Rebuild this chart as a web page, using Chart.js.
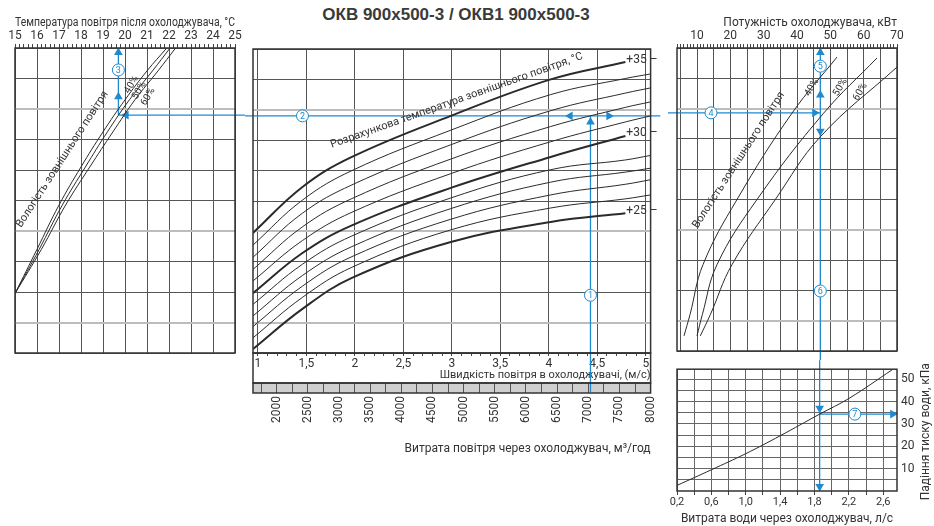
<!DOCTYPE html>
<html>
<head>
<meta charset="utf-8">
<script src="https://cdn.jsdelivr.net/npm/chart.js@4"></script>
<style>
  body { margin: 0; background: #fff; width: 934px; height: 526px; position: relative; overflow: hidden; }
  canvas { position: absolute; }
  #title { position: absolute; top: 5px; left: 0; width: 912px; text-align: center;
           font: bold 17px "Liberation Sans", Arial, sans-serif; color: #3a3a3a; }
</style>
</head>
<body>
<div id="title">ОКВ 900х500-3 / ОКВ1 900х500-3</div>
<canvas id="left" width="245" height="360" style="left:0;top:0"></canvas>
<canvas id="mid" width="423" height="470" style="left:245px;top:0"></canvas>
<canvas id="rtop" width="266" height="360" style="left:668px;top:0"></canvas>
<canvas id="rbot" width="266" height="168" style="left:668px;top:358px"></canvas>
<script>
// ---- дані ----
// ліва панель: температура після охолоджувача (°C) vs спільна вертикальна шкала 0..10
const LEFT_Y = [1.95, 3.4, 4.85, 6.1, 7.25, 8.3, 9.25, 10];
const LEFT_40 = [15, 16, 17, 18, 19, 20, 21, 21.9];
const LEFT_50 = [15, 16.1, 17.15, 18.2, 19.2, 20.2, 21.25, 22.05];
const LEFT_60 = [15, 16.2, 17.3, 18.4, 19.45, 20.45, 21.5, 22.3];

// середня панель: швидкість повітря (м/с)
const VEL_BOLD = [0.95, 1.46, 1.97, 2.99, 4.02, 4.79];
const VEL_THIN = [0.95, 1.46, 1.97, 2.99, 4.02, 4.79, 5.05];
const T35 = [3.95, 5.46, 6.45, 7.8, 9.0, 9.57];
const T34 = [3.55, 5.03, 6.0, 7.33, 8.5, 9.03, 9.18];
const T33 = [3.15, 4.6, 5.53, 6.85, 7.97, 8.55, 8.72];
const T32 = [2.75, 4.15, 5.08, 6.38, 7.45, 8.08, 8.26];
const T31 = [2.37, 3.7, 4.63, 5.9, 6.95, 7.6, 7.8];
const T30 = [1.97, 3.29, 4.2, 5.43, 6.45, 7.14];
const T29 = [1.6, 2.92, 3.85, 5.1, 6.03, 6.35, 6.5];
const T28 = [1.22, 2.55, 3.5, 4.75, 5.62, 5.95, 6.08];
const T27 = [0.87, 2.2, 3.17, 4.4, 5.2, 5.55, 5.7];
const T26 = [0.5, 1.83, 2.82, 4.05, 4.77, 5.07, 5.2];
const T25 = [0.13, 1.45, 2.47, 3.65, 4.31, 4.6];

// права верхня панель: потужність (кВт)
const POW_Y = [0.5, 1.2, 2.85, 5.0, 7.85, 9.7];
const POW_40 = [6.1, 7.9, 11.8, 22, 38.5, 52];
const POW_50_Y = [0.5, 1.2, 2.85, 5.0, 7.85, 9.67];
const POW_50 = [10, 11.6, 16, 28, 48, 64];
const POW_60_Y = [0.5, 1.2, 2.85, 5.0, 7.07, 9.37];
const POW_60 = [11, 14, 20.5, 33.5, 47, 70];

// права нижня панель: витрата води (л/с) і падіння тиску (кПа)
const WATER = [0.2, 0.6, 1.0, 1.4, 1.86, 2.2, 2.71];
const DROP = [2.5, 9.5, 16.7, 24.7, 34.4, 41.4, 54.4];

// приклад підбору (сині лінії)
const EX_Y = 7.8;        // рівень лінії 2/4
const EX_VEL = 4.43;     // швидкість, м/с
const EX_TEMP = 19.7;    // температура після охолоджувача
const EX_POW = 47;       // потужність, кВт
const EX_WATER = 1.86;   // витрата води
const EX_DROP = 34.4;    // падіння тиску

const BLUE = '#1e8ad0';
const FONT = 'Roboto, "Noto Sans", sans-serif';

function pts(xs, ys) { return xs.map((x, i) => ({ x: x, y: ys[i] })); }
function range(a, b, step) {
  const t = [];
  for (let v = a; v <= b + 1e-9; v += step) t.push({ value: Math.round(v * 1000) / 1000 });
  return t;
}
function isMul(v, m) { const r = v / m; return Math.abs(r - Math.round(r)) < 1e-6; }
function comma(v, d) { return v.toFixed(d).replace('.', ','); }

function curve(data, w) {
  return { data: data, showLine: true, borderColor: '#2b2b2b', borderWidth: w || 1,
           pointRadius: 0, tension: 0.4, fill: false };
}
function blueLine(data) {
  return { data: data, showLine: true, borderColor: BLUE, borderWidth: 1.3, pointRadius: 0, clip: false };
}
function arrows(data, rot) {
  return { data: data, showLine: false, pointStyle: 'triangle', pointRadius: 5, pointRotation: rot,
           pointBackgroundColor: BLUE, pointBorderColor: BLUE, pointBorderWidth: 0, clip: false };
}

// спільна вертикальна шкала (лише сітка)
function hiddenY() {
  return {
    min: 0, max: 10, position: 'left',
    ticks: { display: false, stepSize: 1 },
    border: { display: false },
    grid: {
      drawTicks: false,
      color: c => [1, 4, 8].includes(c.tick.value) ? '#bdbdbd' : '#555',
      lineWidth: c => [1, 4, 8].includes(c.tick.value) ? 2 : 1
    },
    afterFit(s) { s.width = 0; }
  };
}

const notesPlugin = {
  id: 'notes',
  afterDatasetsDraw(chart, args, opts) {
    const ctx = chart.ctx, xs = chart.scales.x, ys = chart.scales.y;
    (opts.items || []).forEach(it => {
      const px = xs.getPixelForValue(it.x), py = ys.getPixelForValue(it.y);
      ctx.save();
      ctx.translate(px, py);
      if (it.num) {
        ctx.beginPath();
        ctx.arc(0, 0, 6, 0, Math.PI * 2);
        ctx.fillStyle = '#fff';
        ctx.fill();
        ctx.strokeStyle = BLUE;
        ctx.lineWidth = 1;
        ctx.stroke();
        ctx.fillStyle = BLUE;
        ctx.font = '9px ' + FONT;
        ctx.textAlign = 'center';
        ctx.textBaseline = 'middle';
        ctx.fillText(it.num, 0, 0.5);
      } else {
        ctx.rotate((it.rot || 0) * Math.PI / 180);
        ctx.font = it.font || ('11px ' + FONT);
        ctx.fillStyle = it.color || '#333';
        ctx.textAlign = it.align || 'center';
        ctx.textBaseline = 'middle';
        ctx.fillText(it.t, 0, 0);
      }
      ctx.restore();
    });
  },
  afterDraw(chart) {
    const a = chart.chartArea, ctx = chart.ctx;
    ctx.save();
    ctx.strokeStyle = '#333';
    ctx.lineWidth = 1.5;
    ctx.strokeRect(a.left, a.top, a.right - a.left, a.bottom - a.top);
    ctx.restore();
  }
};

function topAxis(min, max, step, labelEvery, gridEvery, title, align) {
  return {
    type: 'linear', position: 'top', min: min, max: max,
    afterBuildTicks(s) { s.ticks = range(Math.ceil(min / step) * step, max, step); },
    ticks: { autoSkip: false, maxRotation: 0, padding: 1, color: '#333', font: { size: 12, family: FONT },
             callback: v => isMul(v, labelEvery) ? v : '' },
    grid: { color: c => isMul(c.tick.value, gridEvery) ? '#555' : 'rgba(0,0,0,0)',
            tickColor: '#444', tickLength: 4 },
    border: { display: false },
    title: { display: true, text: title, align: align, color: '#333', font: { size: 12, family: FONT },
             padding: { top: 16, bottom: 0 } },
    afterFit(s) { s.height = 48; }
  };
}

Chart.defaults.animation = false;
Chart.defaults.font.family = FONT;

// ---- ліва панель ----
new Chart(document.getElementById('left'), {
  type: 'scatter',
  data: { datasets: [
    curve(pts(LEFT_40, LEFT_Y)), curve(pts(LEFT_50, LEFT_Y)), curve(pts(LEFT_60, LEFT_Y)),
    blueLine([{ x: EX_TEMP, y: EX_Y }, { x: 25.45, y: EX_Y }]),
    blueLine([{ x: EX_TEMP, y: EX_Y }, { x: EX_TEMP, y: 10 }]),
    arrows([{ x: 20.05, y: EX_Y }, { x: EX_TEMP, y: 8.4 }, { x: EX_TEMP, y: 9.85 }], [-90, 0, 0])
  ] },
  options: {
    responsive: false, devicePixelRatio: 1,
    layout: { padding: { left: 15, right: 10, top: 0, bottom: 7 } },
    scales: {
      x: topAxis(15, 25, 0.2, 1, 1, 'Температура повітря після охолоджувача, °С', 'start'),
      y: hiddenY()
    },
    plugins: { legend: { display: false }, tooltip: { enabled: false },
      notes: { items: [
        { t: 'Вологість зовнішнього повітря', x: 17.15, y: 6.35, rot: -57 },
        { t: '40%', x: 20.3, y: 8.8, rot: -60, font: '10px ' + FONT },
        { t: '50%', x: 20.65, y: 8.6, rot: -60, font: '10px ' + FONT },
        { t: '60%', x: 21.05, y: 8.4, rot: -60, font: '10px ' + FONT },
        { num: '3', x: EX_TEMP, y: 9.28 }
      ] } }
  },
  plugins: [notesPlugin]
});

// ---- середня панель ----
const midPlugin = {
  id: 'midbox',
  beforeDraw(chart) {
    const a = chart.chartArea, f = chart.scales.x2, ctx = chart.ctx;
    ctx.save();
    ctx.fillStyle = '#cfcfcf';
    ctx.fillRect(a.left, f.top, a.right - a.left, 10);
    ctx.restore();
  },
  afterDraw(chart) {
    const a = chart.chartArea, v = chart.scales.x, f = chart.scales.x2, ctx = chart.ctx;
    ctx.save();
    ctx.strokeStyle = '#333';
    ctx.lineWidth = 1.5;
    ctx.strokeRect(a.left, a.bottom, a.right - a.left, v.bottom - a.bottom);
    ctx.strokeRect(a.left, f.top, a.right - a.left, 10);
    ctx.restore();
  }
};
new Chart(document.getElementById('mid'), {
  type: 'scatter',
  data: { datasets: [
    curve(pts(VEL_BOLD, T35), 2), curve(pts(VEL_THIN, T34)), curve(pts(VEL_THIN, T33)),
    curve(pts(VEL_THIN, T32)), curve(pts(VEL_THIN, T31)), curve(pts(VEL_BOLD, T30), 2),
    curve(pts(VEL_THIN, T29)), curve(pts(VEL_THIN, T28)), curve(pts(VEL_THIN, T27)),
    curve(pts(VEL_THIN, T26)), curve(pts(VEL_BOLD, T25), 2),
    blueLine([{ x: 0.868, y: EX_Y }, { x: 5.15, y: EX_Y }]),
    blueLine([{ x: EX_VEL, y: -1.28 }, { x: EX_VEL, y: EX_Y }]),
    arrows([{ x: EX_VEL, y: 7.6 }, { x: 4.22, y: EX_Y }, { x: 4.62, y: EX_Y }], [0, -90, 90])
  ] },
  options: {
    responsive: false, devicePixelRatio: 1,
    layout: { padding: { left: 8, right: 10, top: 49, bottom: 0 } },
    scales: {
      x: {
        type: 'linear', position: 'bottom', min: 0.95, max: 5.05, weight: 0,
        afterBuildTicks(s) { s.ticks = range(1, 5, 0.1); },
        ticks: { autoSkip: false, maxRotation: 0, padding: 1, color: '#333', font: { size: 12 },
                 callback: v => isMul(v, 0.5) ? (isMul(v, 1) ? v : comma(v, 1)) : '' },
        grid: { color: c => isMul(c.tick.value, 0.5) ? '#555' : 'rgba(0,0,0,0)', tickColor: '#444', tickLength: 3 },
        border: { display: false },
        title: { display: true, text: 'Швидкість повітря в охолоджувачі, (м/с)', align: 'end',
                 color: '#333', font: { size: 11 }, padding: { top: 0, bottom: 1 } },
        afterFit(s) { s.height = 30; }
      },
      x2: {
        type: 'linear', position: 'bottom', min: 1620, max: 8000, weight: 1,
        afterBuildTicks(s) { s.ticks = range(1750, 8000, 250); },
        ticks: { autoSkip: false, minRotation: 90, maxRotation: 90, padding: 3, color: '#333', font: { size: 12 },
                 callback: v => isMul(v, 500) ? v : '' },
        grid: { drawOnChartArea: false, tickColor: '#555', tickLength: 10 },
        border: { display: false },
        title: { display: true, text: 'Витрата повітря через охолоджувач, м³/год', align: 'end',
                 color: '#333', font: { size: 12 }, padding: { top: 4, bottom: 14 } },
        afterFit(s) { s.height = 87; }
      },
      y: hiddenY()
    },
    plugins: { legend: { display: false }, tooltip: { enabled: false },
      notes: { items: [
        { t: 'Розрахункова температура зовнішнього повітря, °С', x: 3.05, y: 8.3, rot: -19.5 },
        { t: '+35 –', x: 4.8, y: 9.64, align: 'left', font: '12px ' + FONT },
        { t: '+30 –', x: 4.8, y: 7.24, align: 'left', font: '12px ' + FONT },
        { t: '+25 –', x: 4.8, y: 4.67, align: 'left', font: '12px ' + FONT },
        { num: '2', x: 1.46, y: EX_Y },
        { num: '1', x: EX_VEL, y: 1.9 }
      ] } }
  },
  plugins: [notesPlugin, midPlugin]
});

// ---- права верхня панель ----
new Chart(document.getElementById('rtop'), {
  type: 'scatter',
  data: { datasets: [
    curve(pts(POW_40, POW_Y)), curve(pts(POW_50, POW_50_Y)), curve(pts(POW_60, POW_60_Y)),
    blueLine([{ x: 1.3, y: 7.86 }, { x: EX_POW, y: 7.86 }]),
    blueLine([{ x: EX_POW, y: 10 }, { x: EX_POW, y: -0.3 }]),
    arrows([{ x: 45.3, y: 7.86 }, { x: EX_POW, y: 9.85 }, { x: EX_POW, y: 8.45 }, { x: EX_POW, y: 7.25 }],
           [90, 0, 0, 180])
  ] },
  options: {
    responsive: false, devicePixelRatio: 1,
    layout: { padding: { left: 9, right: 37, top: 0, bottom: 9 } },
    scales: {
      x: topAxis(4, 70, 1, 10, 5, 'Потужність охолоджувача, кВт', 'end'),
      y: hiddenY()
    },
    plugins: { legend: { display: false }, tooltip: { enabled: false },
      notes: { items: [
        { t: 'Вологість зовнішнього повітря', x: 22.5, y: 6.3, rot: -57 },
        { t: '40%', x: 44.5, y: 8.7, rot: -60, font: '10px ' + FONT },
        { t: '50%', x: 53, y: 8.7, rot: -60, font: '10px ' + FONT },
        { t: '60%', x: 59, y: 8.55, rot: -60, font: '10px ' + FONT },
        { num: '4', x: 14.2, y: 7.86 },
        { num: '5', x: EX_POW, y: 9.4 },
        { num: '6', x: EX_POW, y: 1.98 }
      ] } }
  },
  plugins: [notesPlugin]
});

// ---- права нижня панель ----
new Chart(document.getElementById('rbot'), {
  type: 'scatter',
  data: { datasets: [
    curve(pts(WATER, DROP)),
    blueLine([{ x: EX_WATER, y: 58.5 }, { x: EX_WATER, y: 0 }]),
    blueLine([{ x: EX_WATER, y: EX_DROP }, { x: 2.76, y: EX_DROP }]),
    arrows([{ x: EX_WATER, y: 37 }, { x: EX_WATER, y: 2 }, { x: 2.71, y: EX_DROP }], [180, 180, 90])
  ] },
  options: {
    responsive: false, devicePixelRatio: 1,
    layout: { padding: { left: 9, right: 0, top: 9, bottom: 0 } },
    scales: {
      x: {
        type: 'linear', position: 'bottom', min: 0.2, max: 2.76,
        afterBuildTicks(s) { s.ticks = range(0.2, 2.6, 0.2); },
        ticks: { autoSkip: false, maxRotation: 0, padding: 1, color: '#333', font: { size: 11 },
                 callback: v => isMul(v - 0.2, 0.4) ? comma(v, 1) : '' },
        grid: { color: '#666', tickColor: '#444', tickLength: 4 },
        border: { display: false },
        title: { display: true, text: 'Витрата води через охолоджувач, л/с', color: '#333',
                 font: { size: 12 }, padding: { top: 4, bottom: 0 } },
        afterFit(s) { s.height = 35; }
      },
      y: {
        type: 'linear', position: 'right', min: 0, max: 54.5,
        afterBuildTicks(s) { s.ticks = range(5, 50, 5); },
        ticks: { autoSkip: false, padding: 4, color: '#333', font: { size: 12 },
                 callback: v => isMul(v, 10) ? v : '' },
        grid: { color: '#666', drawTicks: false },
        border: { display: false },
        afterFit(s) { s.width = 37; }
      }
    },
    plugins: { legend: { display: false }, tooltip: { enabled: false },
      notes: { items: [
        { t: 'Падіння тиску води, кПа', x: 3.1, y: 26.5, rot: -90, font: '12px ' + FONT },
        { num: '7', x: 2.27, y: EX_DROP }
      ] } }
  },
  plugins: [notesPlugin]
});
</script>
</body>
</html>
